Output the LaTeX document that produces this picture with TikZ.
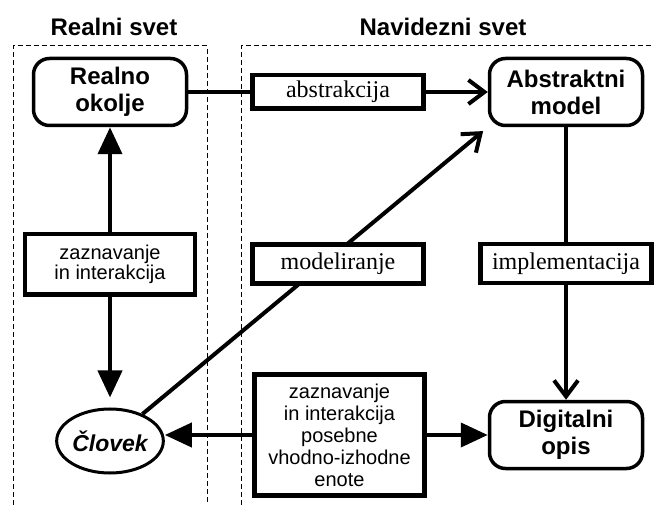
\documentclass[tikz,border=0pt]{standalone}
\usepackage{fontspec}
\setmainfont{Liberation Serif}
\setsansfont{Liberation Sans}
\usetikzlibrary{arrows.meta,shapes.geometric,backgrounds}

\begin{document}
\begin{tikzpicture}[x=1pt,y=-1pt,
  okvir/.style={draw, rounded corners=16pt, line width=3.5pt, fill=white, align=center, inner sep=0pt, minimum width=153pt, minimum height=67pt, font=\sffamily\bfseries\fontsize{24}{27}\selectfont},
  oznaka/.style={draw, line width=4.5pt, fill=white, inner sep=0pt, minimum width=171pt, minimum height=39pt, font=\fontsize{24}{26}\selectfont},
  opis/.style={draw, line width=4.5pt, fill=white, align=center, inner sep=0pt, minimum width=170pt, font=\sffamily\fontsize{20}{20}\selectfont},
  naslov/.style={anchor=base, font=\sffamily\bfseries\fontsize{24}{26}\selectfont},
  meja/.style={dash pattern=on 5pt off 3pt, line width=1pt},
  povezava/.style={line width=4pt},
  polna/.style={-{Triangle[length=27pt,width=24pt]}},
  odprta/.style={-{Straight Barb[length=16pt,width=24pt]}}
]

\useasboundingbox (0,0) rectangle (654,505);

% Naslova
\node[naslov] (realni) at (114,36) {Realni svet};
\node[naslov] (navidezni) at (443,36) {Navidezni svet};

% Okvirja
\draw[meja] (13,505) -- (13,46) -- (207,46) -- (207,505);
\draw[meja] (241,505) -- (241,46) -- (654,46);

% Vozlisca
\node[okvir] (okolje) at (110,92) {Realno\\okolje};
\node[okvir] (model) at (566,92) {Abstraktni\\model};
\node[okvir] (opis) at (566,435) {Digitalni\\opis};
\node[draw, ellipse, line width=3pt, inner sep=0pt, minimum width=87pt, minimum height=64pt,
  font=\sffamily\bfseries\itshape\fontsize{23}{25}\selectfont] (clovek) at (110,441) {Človek};

% Oznake
\node[oznaka, minimum height=33.5pt] (abstrakcija) at (338,92) {abstrakcija};
\node[oznaka] (modeliranje) at (338,264) {modeliranje};
\node[oznaka] (implementacija) at (566,263.5) {implementacija};
\node[opis, minimum height=60.5pt] (zaznavanje) at (110,264.5) {zaznavanje\\in interakcija};
\node[opis, minimum height=120.5pt, font=\sffamily\fontsize{20}{22}\selectfont] (enote) at (339.5,435)
  {zaznavanje\\in interakcija\\posebne\\vhodno-izhodne\\enote};

% Povezave
\begin{scope}[on background layer]
\draw[povezava] (okolje) -- (abstrakcija);
\draw[povezava, odprta] (abstrakcija) -- (model);
\draw[povezava] (model) -- (implementacija);
\draw[povezava, odprta] (implementacija) -- (opis);
\draw[povezava, polna] (zaznavanje) -- (okolje);
\draw[povezava, polna, shorten >=10pt] (zaznavanje) -- (clovek);
\draw[povezava, odprta, shorten >=6pt] (clovek) -- (model.south west);
\draw[povezava, polna] (enote.west) -- (enote.west -| clovek.east);
\draw[povezava, polna] (enote.east) -- (enote.east -| opis.west);
\end{scope}

\end{tikzpicture}
\end{document}
